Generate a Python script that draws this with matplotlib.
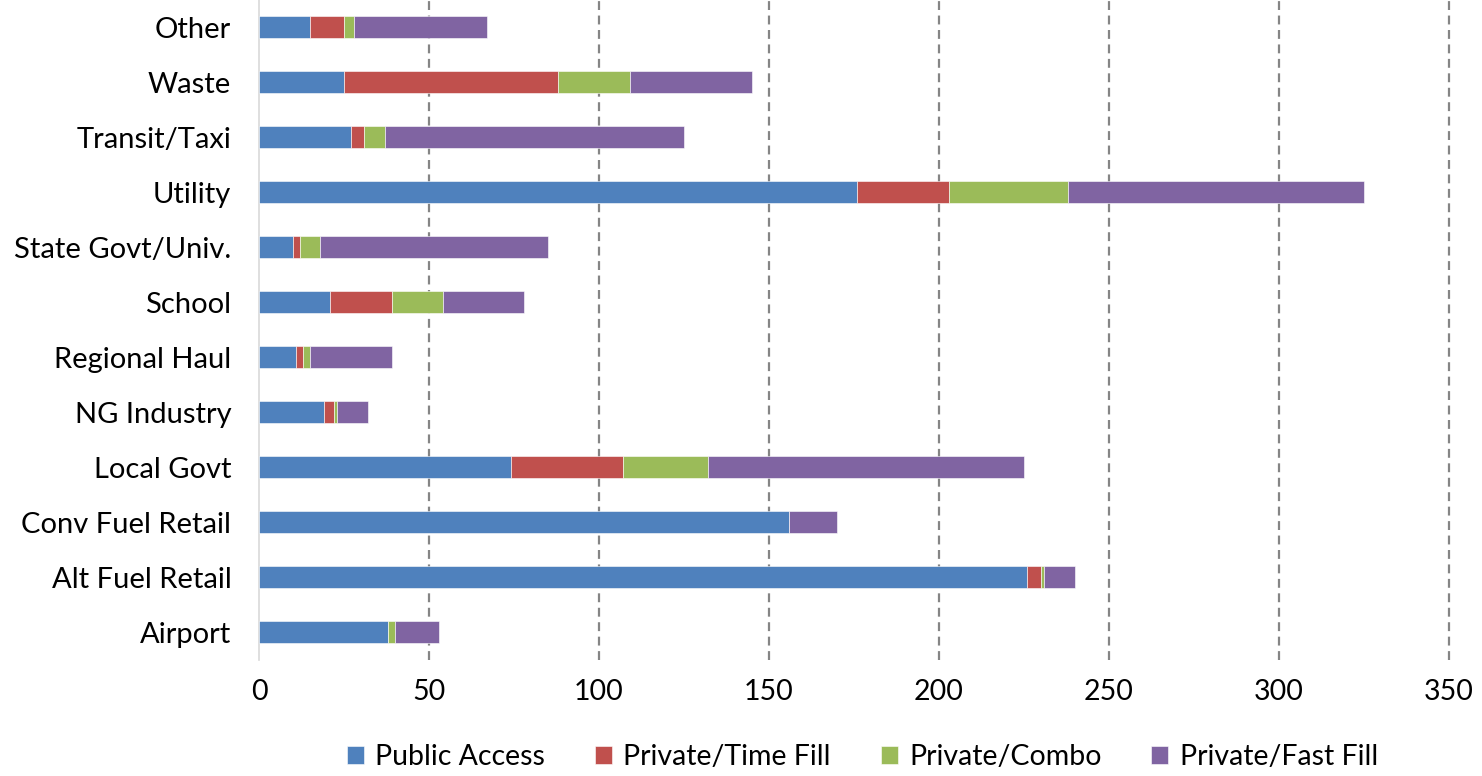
import matplotlib
matplotlib.use("Agg")
import matplotlib.pyplot as plt
import numpy as np

plt.rcParams['font.family'] = ['Lato', 'DejaVu Sans']

# Categories listed bottom to top
categories = ['Airport', 'Alt Fuel Retail', 'Conv Fuel Retail', 'Local Govt', 'NG Industry',
              'Regional Haul', 'School', 'State Govt/Univ.', 'Utility', 'Transit/Taxi',
              'Waste', 'Other']

public_access = [38, 226, 156, 74, 19, 11, 21, 10, 176, 27, 25, 15]
private_time = [0, 4, 0, 33, 3, 2, 18, 2, 27, 4, 63, 10]
private_combo = [2, 1, 0, 25, 1, 2, 15, 6, 35, 6, 21, 3]
private_fast = [13, 9, 14, 93, 9, 24, 24, 67, 87, 88, 36, 39]

series_names = ['Public Access', 'Private/Time Fill', 'Private/Combo', 'Private/Fast Fill']
colors = ['#4f81bd', '#c0504d', '#9bbb59', '#8064a2']
x_ticks = [0, 50, 100, 150, 200, 250, 300, 350]

fig = plt.figure(figsize=(14.82, 7.76), dpi=100)
ax = fig.add_axes([0.1748, 0.1495, 0.8029, 0.8505])

y = np.arange(len(categories))
left = np.zeros(len(categories))
for name, vals, col in zip(series_names, [public_access, private_time, private_combo, private_fast], colors):
    ax.barh(y, vals, left=left, height=0.4, color=col, label=name,
            edgecolor='white', linewidth=0.4, zorder=3)
    left += np.array(vals)

ax.set_xlim(0, 350)
ax.set_ylim(-0.5, len(categories) - 0.5)
ax.set_yticks(y)
ax.set_yticklabels(categories, fontsize=21)
ax.set_xticks(x_ticks)
ax.set_xticklabels([str(t) for t in x_ticks], fontsize=20.5)
ax.tick_params(axis='both', length=0, colors='black')
ax.tick_params(axis='x', pad=14)
ax.tick_params(axis='y', pad=20)

# dashed vertical gridlines (not clipped so the 350 line is drawn in full)
for t in x_ticks[1:]:
    ax.axvline(t, color='#858585', linestyle=(0, (4, 2.5)), linewidth=1.6, zorder=1,
               clip_on=False)

for s in ['top', 'right', 'bottom']:
    ax.spines[s].set_visible(False)
ax.spines['left'].set_color('#d9d9d9')
ax.spines['left'].set_linewidth(1.2)

ax.legend(loc='lower center', bbox_to_anchor=(0.507, -0.205), ncol=4, frameon=False,
          fontsize=20.5, handlelength=0.6, handleheight=0.6, handletextpad=0.4,
          columnspacing=1.75)

fig.savefig('out.png', dpi=100)
